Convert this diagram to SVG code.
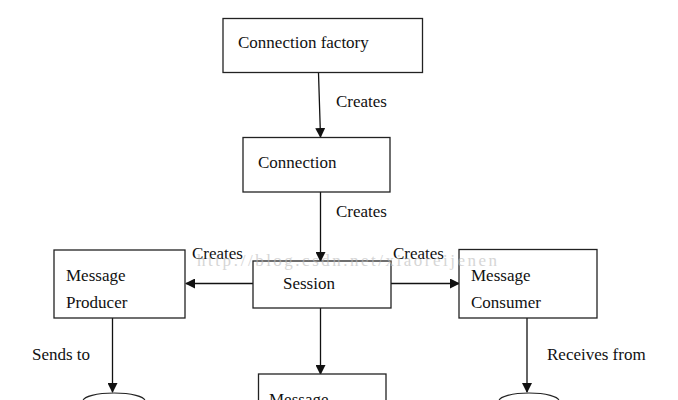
<svg xmlns="http://www.w3.org/2000/svg" width="678" height="400" viewBox="0 0 678 400">
<defs>
<style>
.box{fill:#fff;stroke:#222;stroke-width:1.3}
.t{font-family:"Liberation Serif","Times New Roman",serif;font-size:17px;fill:#111}
.edge{stroke:#111;stroke-width:1.3;fill:none;marker-end:url(#ah)}
.cyl{fill:#fff;stroke:#222;stroke-width:1.2}
.wm{font-family:"Liberation Serif","Times New Roman",serif;font-size:17px;fill:#bbb;opacity:0.6}
</style>
<marker id="ah" markerWidth="10" markerHeight="10" refX="9" refY="5" orient="auto" markerUnits="userSpaceOnUse">
<path d="M0,0 L10,5 L0,10 Z" fill="#111"/>
</marker>
</defs>
<rect width="678" height="400" fill="#fff"/>
<g id="edges">
<line class="edge" x1="318.5" y1="73" x2="320.5" y2="137"/>
<line class="edge" x1="320.5" y1="192" x2="320.5" y2="261"/>
<line class="edge" x1="253" y1="283.5" x2="186" y2="283.5"/>
<line class="edge" x1="391" y1="283.5" x2="459" y2="283.5"/>
<line class="edge" x1="112.5" y1="318" x2="112.5" y2="392"/>
<line class="edge" x1="320.5" y1="308" x2="320.5" y2="374"/>
<line class="edge" x1="527" y1="318" x2="527" y2="392"/>
<text class="t" x="336" y="107">Creates</text>
<text class="t" x="336" y="217">Creates</text>
<text class="t" x="192" y="259">Creates</text>
<text class="t" x="393" y="259">Creates</text>
<text class="t" x="32" y="360">Sends to</text>
<text class="t" x="547" y="360">Receives from</text>
</g>
<g id="connection-factory">
<rect class="box" x="223" y="18.5" width="199.5" height="54"/>
<text class="t" x="238" y="48">Connection factory</text>
</g>
<g id="connection">
<rect class="box" x="243" y="137.5" width="147" height="54.5"/>
<text class="t" x="258" y="168">Connection</text>
</g>
<g id="session">
<rect class="box" x="253" y="261" width="138" height="47"/>
<text class="t" x="283" y="289">Session</text>
</g>
<g id="message-producer">
<rect class="box" x="54" y="250" width="131" height="68"/>
<text class="t" x="66" y="281">Message</text>
<text class="t" x="66" y="308">Producer</text>
</g>
<g id="message-consumer">
<rect class="box" x="459" y="249.5" width="138" height="68.5"/>
<text class="t" x="471" y="281">Message</text>
<text class="t" x="471" y="308">Consumer</text>
</g>
<g id="message">
<rect class="box" x="258.5" y="374" width="127.5" height="40"/>
<text class="t" x="269" y="405">Message</text>
</g>
<g id="destination-left">
<ellipse class="cyl" cx="114" cy="401" rx="31" ry="8"/>
</g>
<g id="destination-right">
<ellipse class="cyl" cx="529" cy="401" rx="30" ry="8"/>
</g>
<text class="wm" x="197" y="266" textLength="300" lengthAdjust="spacing">http://blog.csdn.net/xiaoreijenen</text>
</svg>
